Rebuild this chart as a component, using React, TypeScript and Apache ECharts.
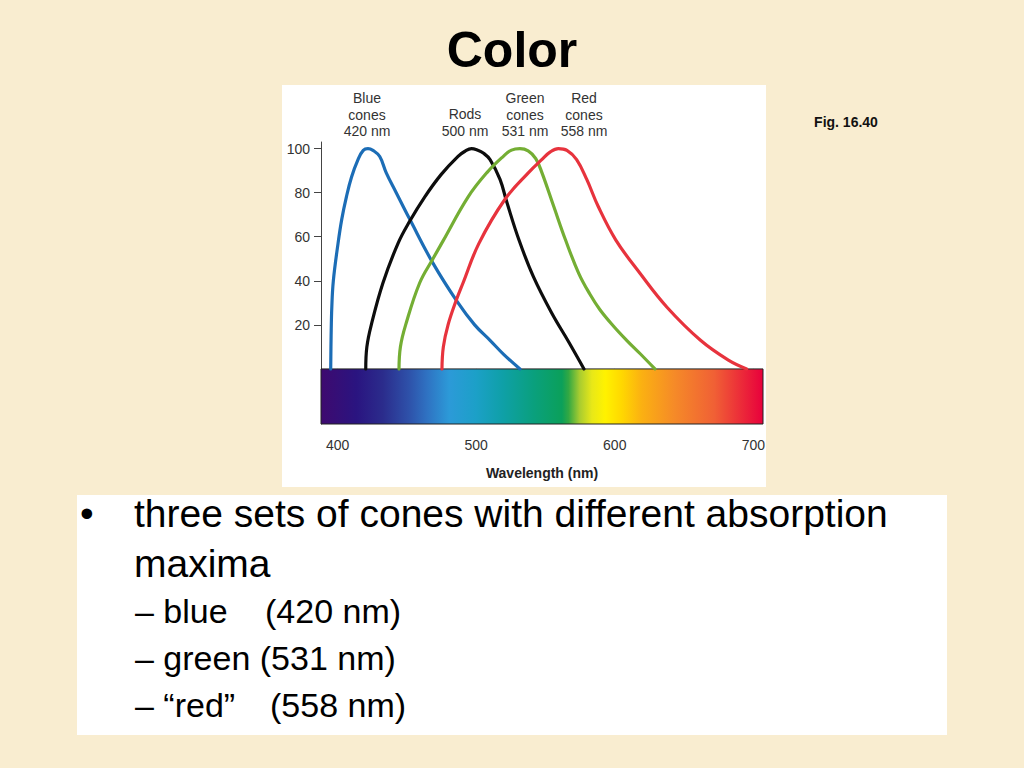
import React, { useEffect, useRef } from "react";
import * as echarts from "echarts";

// ---- data (wavelength nm, relative absorbance %) ----
const wavelengthTicks = [400, 500, 600, 700];
const absorbanceTicks = [20, 40, 60, 80, 100];

const blueCones: number[][] = [
  [395.0, 0], [395.3, 15], [395.8, 28], [396.9, 40], [400.3, 57], [403.0, 68],
  [406.3, 78], [410.0, 87], [414.7, 95], [418.5, 99.2], [421.9, 100], [425.5, 99.2],
  [430.4, 96.4], [435.1, 89], [442.3, 80], [452.0, 68], [468.8, 48],
  [485.8, 31], [498.9, 20], [510.0, 13], [520.0, 6.5], [531.6, 0],
];
const rods: number[][] = [
  [420.3, 0], [421.1, 10], [424.3, 20], [432.7, 39], [443.6, 57], [452.0, 67], [462.8, 78],
  [474.8, 88.3], [486.9, 96.5], [491.9, 98.8], [496.6, 100], [501.0, 99.3], [505.1, 98],
  [510.0, 95], [517.2, 86], [522.2, 75.5], [530.9, 58.5], [541.2, 42], [554.4, 25.5],
  [567.0, 12], [577.8, 0],
];
const greenCones: number[][] = [
  [444.3, 0], [445.3, 10], [449.1, 20], [459.2, 39], [468.8, 50], [476.0, 58], [494.1, 78],
  [507.6, 89], [519.6, 96.5], [525.5, 99.3], [531.6, 100], [537.5, 99], [543.0, 95.5],
  [547.5, 89], [556.0, 73.7], [564.5, 58.5], [574.0, 43.4], [582.0, 34], [589.2, 27],
  [599.0, 19.5], [608.6, 13], [618.2, 7], [629.0, 0],
];
const redCones: number[][] = [
  [475.3, 0], [476.3, 10], [479.7, 20], [485.8, 31.5], [490.5, 39], [502.0, 57], [520.8, 77],
  [537.6, 89], [547.3, 95], [553.5, 98.5], [559.3, 100], [565.5, 99.2], [572.5, 95],
  [579.8, 86], [588.1, 73.7], [600.8, 58.5], [618.2, 43.4], [637.7, 28], [661.9, 13],
  [682.0, 4], [695.2, 0],
];

const curveLabels = [
  { text: "Blue\ncones\n420 nm", x: 367, y: 114.5 },
  { text: "Rods\n500 nm", x: 465, y: 122.5 },
  { text: "Green\ncones\n531 nm", x: 525, y: 114.5 },
  { text: "Red\ncones\n558 nm", x: 584, y: 114.5 },
];

const FONT = "'Liberation Sans', Arial, Helvetica, sans-serif";

function buildOption() {
  const spectrum = new echarts.graphic.LinearGradient(0, 0, 1, 0, [
    { offset: 0, color: "#3e0a6f" },
    { offset: 0.08, color: "#2a1480" },
    { offset: 0.14, color: "#2b2c8c" },
    { offset: 0.2, color: "#2e52aa" },
    { offset: 0.24, color: "#2f72c2" },
    { offset: 0.29, color: "#2c9ad8" },
    { offset: 0.35, color: "#1ca0c8" },
    { offset: 0.41, color: "#0fa0a8" },
    { offset: 0.48, color: "#0aa07e" },
    { offset: 0.545, color: "#0ba05a" },
    { offset: 0.56, color: "#32a843" },
    { offset: 0.585, color: "#a8cc30" },
    { offset: 0.613, color: "#e8e818" },
    { offset: 0.643, color: "#fff200" },
    { offset: 0.68, color: "#ffd800" },
    { offset: 0.726, color: "#fbb012" },
    { offset: 0.8, color: "#f58a28" },
    { offset: 0.89, color: "#f06035" },
    { offset: 1, color: "#e8003c" },
  ]);

  const lineSeries = (name: string, data: number[][], color: string, extra: any = {}) => ({
    type: "line",
    name,
    data,
    smooth: 0.4,
    showSymbol: false,
    symbol: "none",
    lineStyle: { color, width: 3.2, cap: "round", join: "round" },
    z: 3,
    ...extra,
  });

  const graphics: any[] = [
    { type: "rect", z: 0, shape: { x: 282, y: 85, width: 484, height: 402 }, style: { fill: "#ffffff" } },
    { type: "rect", z: 0, shape: { x: 77, y: 495, width: 870, height: 240 }, style: { fill: "#ffffff" } },
    {
      type: "text", z: 1, x: 512, y: 50,
      style: { text: "Color", fontSize: 50, fontWeight: "bold", fontFamily: FONT, fill: "#000", align: "center", verticalAlign: "middle" },
    },
    {
      type: "text", z: 1, x: 846, y: 122,
      style: { text: "Fig. 16.40", fontSize: 14, fontWeight: "bold", fontFamily: FONT, fill: "#111", align: "center", verticalAlign: "middle" },
    },
    { type: "text", z: 1, x: 80, y: 513, style: { text: "•", fontSize: 39, fontFamily: FONT, fill: "#000", align: "left", verticalAlign: "middle" } },
    { type: "text", z: 1, x: 134, y: 513, style: { text: "three sets of cones with different absorption", fontSize: 39, fontFamily: FONT, fill: "#000", align: "left", verticalAlign: "middle" } },
    { type: "text", z: 1, x: 134, y: 563, style: { text: "maxima", fontSize: 39, fontFamily: FONT, fill: "#000", align: "left", verticalAlign: "middle" } },
    { type: "text", z: 1, x: 135, y: 611, style: { text: "– blue", fontSize: 34, fontFamily: FONT, fill: "#000", align: "left", verticalAlign: "middle" } },
    { type: "text", z: 1, x: 265, y: 611, style: { text: "(420 nm)", fontSize: 34, fontFamily: FONT, fill: "#000", align: "left", verticalAlign: "middle" } },
    { type: "text", z: 1, x: 135, y: 658, style: { text: "– green (531 nm)", fontSize: 34, fontFamily: FONT, fill: "#000", align: "left", verticalAlign: "middle" } },
    { type: "text", z: 1, x: 135, y: 705, style: { text: "– “red”", fontSize: 34, fontFamily: FONT, fill: "#000", align: "left", verticalAlign: "middle" } },
    { type: "text", z: 1, x: 270, y: 705, style: { text: "(558 nm)", fontSize: 34, fontFamily: FONT, fill: "#000", align: "left", verticalAlign: "middle" } },
  ];

  curveLabels.forEach((l) => {
    graphics.push({
      type: "text", z: 1, x: l.x, y: l.y,
      style: { text: l.text, fontSize: 14, lineHeight: 16.5, fontFamily: FONT, fill: "#333", align: "center", verticalAlign: "middle" },
    });
  });

  return {
    animation: false,
    backgroundColor: "#f9edd0",
    graphic: { elements: graphics },
    grid: { left: 321, right: 261, top: 142, bottom: 344, containLabel: false },
    xAxis: {
      type: "value",
      min: 388,
      max: 707,
      name: "Wavelength (nm)",
      nameLocation: "middle",
      nameGap: 42,
      nameTextStyle: { fontSize: 14, fontWeight: "bold", fontFamily: FONT, color: "#222" },
      axisLine: { show: false },
      axisTick: { show: true, customValues: wavelengthTicks, length: 8, lineStyle: { color: "#444", width: 1 } },
      axisLabel: { customValues: wavelengthTicks, margin: 14, fontSize: 14, fontFamily: FONT, color: "#333" },
      splitLine: { show: false },
    },
    yAxis: {
      type: "value",
      min: -25,
      max: 103,
      axisLine: { show: true, lineStyle: { color: "#444", width: 1 } },
      axisTick: { show: true, customValues: absorbanceTicks, length: 7, lineStyle: { color: "#444", width: 1 } },
      axisLabel: { customValues: absorbanceTicks, margin: 11, fontSize: 14, fontFamily: FONT, color: "#333" },
      splitLine: { show: false },
    },
    series: [
      lineSeries("Blue cones", blueCones, "#1c6db6", {
        markArea: {
          silent: true,
          itemStyle: { color: spectrum, borderColor: "#222", borderWidth: 1 },
          data: [[{ coord: [388, -25] }, { coord: [707, 0] }]],
        },
      }),
      lineSeries("Rods", rods, "#0d0d0d"),
      lineSeries("Green cones", greenCones, "#74ae34"),
      lineSeries("Red cones", redCones, "#e7333d"),
    ],
  };
}

export default function App() {
  const ref = useRef<HTMLDivElement>(null);
  useEffect(() => {
    if (!ref.current) return;
    const chart = echarts.init(ref.current, null, { renderer: "svg" });
    chart.setOption(buildOption() as any);
    return () => chart.dispose();
  }, []);
  return <div ref={ref} style={{ position: "fixed", left: 0, top: 0, width: 1024, height: 768 }} />;
}
